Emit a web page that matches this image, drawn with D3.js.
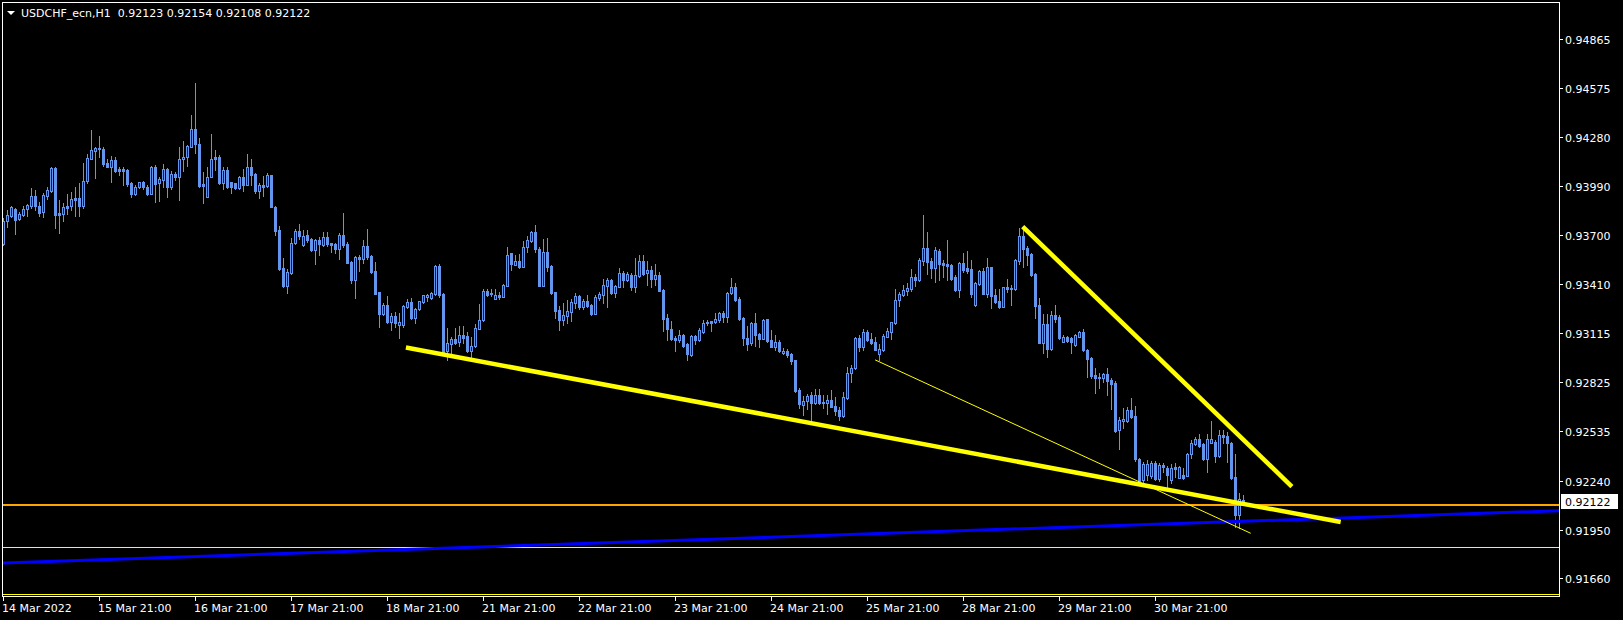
<!DOCTYPE html>
<html><head><meta charset="utf-8">
<script src="https://cdn.jsdelivr.net/npm/d3@7/dist/d3.min.js"></script>
<style>html,body{margin:0;padding:0;background:#000;overflow:hidden}svg{display:block}</style>
</head><body><svg id="c" width="1623" height="620"></svg>
<script>
const symbolTitle = "USDCHF_ecn,H1";
const lastOHLC = [0.92123, 0.92154, 0.92108, 0.92122];
const timeLabels = ["14 Mar 2022","15 Mar 21:00","16 Mar 21:00","17 Mar 21:00","18 Mar 21:00","21 Mar 21:00","22 Mar 21:00","23 Mar 21:00","24 Mar 21:00","25 Mar 21:00","28 Mar 21:00","29 Mar 21:00","30 Mar 21:00"];
const timeLabelBars = [0,24,48,72,96,120,144,168,192,216,240,264,288];
const priceTicks = [0.94865,0.94575,0.94280,0.93990,0.93700,0.93410,0.93115,0.92825,0.92535,0.92240,0.91950,0.91660];

const open = [
0.93647,0.93785,0.93815,0.93855,0.93795,0.93821,0.93853,0.93872,0.93932,0.93872,
0.93839,0.93932,0.93963,0.94100,0.93829,0.93827,0.93872,0.93872,0.93920,0.93920,
0.93872,0.94019,0.94153,0.94201,0.94217,0.94211,0.94126,0.94102,0.94146,0.94092,
0.94092,0.94086,0.94011,0.93944,0.93983,0.94017,0.93987,0.93944,0.94104,0.94007,
0.94027,0.94090,0.93983,0.94063,0.94043,0.94150,0.94162,0.94225,0.94328,0.94241,
0.94001,0.93928,0.94046,0.94162,0.94162,0.94011,0.94086,0.94013,0.94007,0.93979,
0.94043,0.93997,0.94102,0.94061,0.93963,0.93995,0.93991,0.94055,0.93868,0.93730,
0.93502,0.93399,0.93473,0.93654,0.93722,0.93641,0.93698,0.93676,0.93611,0.93670,
0.93641,0.93686,0.93651,0.93647,0.93617,0.93700,0.93647,0.93542,0.93433,0.93571,
0.93559,0.93635,0.93575,0.93488,0.93361,0.93233,0.93284,0.93185,0.93219,0.93167,
0.93166,0.93274,0.93302,0.93207,0.93259,0.93302,0.93330,0.93324,0.93350,0.93516,
0.93350,0.93013,0.93053,0.93081,0.93066,0.93106,0.93100,0.93011,0.93043,0.93144,
0.93195,0.93366,0.93357,0.93322,0.93344,0.93334,0.93397,0.93591,0.93522,0.93546,
0.93512,0.93631,0.93666,0.93718,0.93617,0.93397,0.93599,0.93516,0.93361,0.93255,
0.93195,0.93221,0.93245,0.93298,0.93338,0.93274,0.93308,0.93282,0.93231,0.93326,
0.93344,0.93397,0.93433,0.93354,0.93393,0.93472,0.93433,0.93462,0.93393,0.93457,
0.93546,0.93472,0.93492,0.93441,0.93462,0.93373,0.93207,0.93144,0.93090,0.93076,
0.93106,0.93051,0.92986,0.93100,0.93076,0.93126,0.93176,0.93189,0.93183,0.93195,
0.93239,0.93215,0.93354,0.93389,0.93320,0.93205,0.93090,0.93057,0.93176,0.93112,
0.93084,0.93199,0.93076,0.93033,0.93065,0.92997,0.93011,0.92993,0.92958,0.92779,
0.92692,0.92712,0.92750,0.92700,0.92750,0.92710,0.92704,0.92720,0.92684,0.92661,
0.92625,0.92730,0.92879,0.92908,0.93086,0.93033,0.93124,0.93084,0.93065,0.92993,
0.93017,0.93096,0.93126,0.93176,0.93314,0.93346,0.93369,0.93381,0.93449,0.93433,
0.93547,0.93621,0.93546,0.93504,0.93607,0.93534,0.93528,0.93520,0.93449,0.93373,
0.93536,0.93504,0.93500,0.93284,0.93409,0.93488,0.93350,0.93508,0.93344,0.93308,
0.93274,0.93389,0.93385,0.93378,0.93547,0.93694,0.93621,0.93587,0.93468,0.93284,
0.93057,0.93171,0.93021,0.93223,0.93211,0.93066,0.93096,0.93090,0.93047,0.93096,
0.93124,0.93019,0.92970,0.92869,0.92859,0.92849,0.92874,0.92839,0.92823,0.92542,
0.92597,0.92597,0.92661,0.92625,0.92368,0.92245,0.92275,0.92269,0.92344,0.92251,
0.92334,0.92316,0.92245,0.92320,0.92255,0.92275,0.92270,0.92399,0.92457,0.92487,
0.92459,0.92370,0.92466,0.92472,0.92389,0.92512,0.92506,0.92466,0.92261,0.92037,
0.92123];
const high = [
0.93799,0.93849,0.93872,0.93862,0.93839,0.93872,0.93884,0.93979,0.93967,0.93898,
0.93951,0.93983,0.94106,0.94106,0.93908,0.93892,0.93944,0.93957,0.93983,0.94007,
0.94126,0.94181,0.94324,0.94221,0.94288,0.94225,0.94150,0.94170,0.94162,0.94106,
0.94106,0.94092,0.94017,0.93997,0.94017,0.94021,0.93997,0.94112,0.94116,0.94043,
0.94122,0.94096,0.94082,0.94076,0.94221,0.94260,0.94237,0.94413,0.94601,0.94274,
0.94076,0.94102,0.94300,0.94205,0.94175,0.94106,0.94106,0.94017,0.94011,0.94051,
0.94090,0.94181,0.94150,0.94067,0.94007,0.94051,0.94070,0.94057,0.93872,0.93754,
0.93562,0.93496,0.93681,0.93734,0.93765,0.93730,0.93730,0.93681,0.93675,0.93690,
0.93720,0.93718,0.93654,0.93651,0.93714,0.93833,0.93658,0.93546,0.93575,0.93581,
0.93670,0.93736,0.93581,0.93540,0.93361,0.93298,0.93338,0.93235,0.93245,0.93235,
0.93284,0.93320,0.93324,0.93268,0.93310,0.93346,0.93350,0.93361,0.93520,0.93528,
0.93354,0.93149,0.93096,0.93146,0.93160,0.93160,0.93126,0.93096,0.93171,0.93290,
0.93381,0.93378,0.93378,0.93378,0.93363,0.93409,0.93631,0.93595,0.93581,0.93587,
0.93666,0.93694,0.93726,0.93759,0.93627,0.93675,0.93682,0.93522,0.93361,0.93278,
0.93294,0.93314,0.93318,0.93354,0.93344,0.93318,0.93344,0.93290,0.93344,0.93363,
0.93437,0.93443,0.93437,0.93403,0.93502,0.93488,0.93482,0.93472,0.93562,0.93581,
0.93581,0.93547,0.93516,0.93528,0.93480,0.93378,0.93231,0.93191,0.93100,0.93136,
0.93112,0.93060,0.93106,0.93106,0.93146,0.93195,0.93195,0.93191,0.93239,0.93245,
0.93250,0.93363,0.93443,0.93417,0.93330,0.93211,0.93160,0.93185,0.93235,0.93120,
0.93199,0.93199,0.93136,0.93106,0.93076,0.93027,0.93021,0.93001,0.92958,0.92789,
0.92744,0.92754,0.92769,0.92784,0.92784,0.92750,0.92750,0.92779,0.92740,0.92681,
0.92769,0.92914,0.92928,0.93092,0.93106,0.93140,0.93136,0.93116,0.93092,0.93053,
0.93112,0.93146,0.93185,0.93378,0.93363,0.93403,0.93413,0.93496,0.93468,0.93562,
0.93819,0.93720,0.93562,0.93631,0.93615,0.93552,0.93670,0.93528,0.93462,0.93542,
0.93591,0.93605,0.93552,0.93423,0.93492,0.93502,0.93562,0.93512,0.93378,0.93378,
0.93393,0.93437,0.93403,0.93556,0.93740,0.93734,0.93635,0.93591,0.93472,0.93324,
0.93231,0.93231,0.93250,0.93284,0.93225,0.93104,0.93100,0.93096,0.93110,0.93132,
0.93140,0.93023,0.92977,0.92908,0.92879,0.92882,0.92908,0.92849,0.92835,0.92617,
0.92674,0.92681,0.92730,0.92684,0.92376,0.92352,0.92364,0.92358,0.92358,0.92346,
0.92346,0.92328,0.92342,0.92344,0.92328,0.92314,0.92405,0.92482,0.92502,0.92518,
0.92463,0.92518,0.92597,0.92482,0.92542,0.92542,0.92532,0.92472,0.92399,0.92166,
0.92154];
const low = [
0.93641,0.93746,0.93809,0.93706,0.93789,0.93815,0.93815,0.93861,0.93849,0.93813,
0.93809,0.93916,0.93957,0.93743,0.93714,0.93785,0.93825,0.93849,0.93815,0.93815,
0.93859,0.94007,0.94150,0.94041,0.94165,0.94112,0.94102,0.94017,0.94076,0.94057,
0.93997,0.93991,0.93928,0.93938,0.93977,0.93972,0.93938,0.93944,0.93898,0.93904,
0.93987,0.93928,0.93972,0.94027,0.93908,0.94082,0.94110,0.94221,0.94189,0.93987,
0.93888,0.93928,0.94046,0.94086,0.94003,0.93972,0.93977,0.93948,0.93972,0.93975,
0.93963,0.93997,0.93997,0.93951,0.93918,0.93932,0.93987,0.93868,0.93700,0.93492,
0.93389,0.93357,0.93468,0.93647,0.93675,0.93635,0.93660,0.93607,0.93528,0.93581,
0.93635,0.93635,0.93601,0.93591,0.93558,0.93631,0.93532,0.93417,0.93328,0.93488,
0.93532,0.93559,0.93476,0.93350,0.93155,0.93225,0.93179,0.93136,0.93152,0.93090,
0.93155,0.93265,0.93203,0.93179,0.93255,0.93298,0.93306,0.93320,0.93346,0.93330,
0.93007,0.92958,0.92997,0.93053,0.93041,0.93057,0.93007,0.92974,0.93037,0.93140,
0.93191,0.93338,0.93338,0.93318,0.93322,0.93330,0.93397,0.93492,0.93522,0.93502,
0.93508,0.93601,0.93660,0.93601,0.93397,0.93397,0.93488,0.93350,0.93209,0.93136,
0.93166,0.93176,0.93191,0.93265,0.93262,0.93259,0.93271,0.93225,0.93231,0.93314,
0.93298,0.93274,0.93350,0.93334,0.93393,0.93393,0.93429,0.93373,0.93363,0.93449,
0.93462,0.93403,0.93389,0.93403,0.93367,0.93132,0.93076,0.93076,0.93013,0.93066,
0.93037,0.92958,0.92981,0.93053,0.93072,0.93116,0.93166,0.93132,0.93179,0.93185,
0.93185,0.93185,0.93350,0.93310,0.93195,0.93047,0.93017,0.93047,0.93041,0.93037,
0.93081,0.93066,0.93033,0.93017,0.93007,0.92993,0.92977,0.92934,0.92769,0.92671,
0.92631,0.92665,0.92601,0.92696,0.92696,0.92671,0.92637,0.92677,0.92631,0.92601,
0.92621,0.92724,0.92829,0.92904,0.93009,0.93017,0.93072,0.93053,0.93017,0.92958,
0.93013,0.93092,0.93081,0.93171,0.93278,0.93338,0.93344,0.93369,0.93397,0.93429,
0.93522,0.93468,0.93443,0.93423,0.93433,0.93449,0.93433,0.93433,0.93369,0.93334,
0.93482,0.93476,0.93330,0.93278,0.93403,0.93350,0.93330,0.93265,0.93294,0.93265,
0.93271,0.93363,0.93284,0.93373,0.93528,0.93512,0.93522,0.93457,0.93205,0.93057,
0.93001,0.92977,0.93017,0.93185,0.93081,0.93063,0.93066,0.93001,0.93043,0.93092,
0.93013,0.92858,0.92849,0.92763,0.92793,0.92829,0.92750,0.92667,0.92532,0.92429,
0.92552,0.92591,0.92611,0.92360,0.92227,0.92233,0.92245,0.92257,0.92245,0.92239,
0.92292,0.92196,0.92229,0.92265,0.92255,0.92251,0.92269,0.92374,0.92453,0.92443,
0.92364,0.92294,0.92463,0.92354,0.92380,0.92463,0.92354,0.92251,0.91967,0.91958,
0.92108];
const close = [
0.93785,0.93817,0.93868,0.93789,0.93825,0.93855,0.93878,0.93932,0.93872,0.93833,
0.93936,0.93966,0.94100,0.93819,0.93819,0.93866,0.93862,0.93914,0.93910,0.93872,
0.94019,0.94158,0.94205,0.94215,0.94211,0.94122,0.94104,0.94146,0.94082,0.94082,
0.94082,0.94003,0.93944,0.93987,0.94013,0.93983,0.93944,0.94104,0.94003,0.94035,
0.94090,0.93983,0.94063,0.94046,0.94150,0.94162,0.94227,0.94328,0.94241,0.93991,
0.93993,0.94043,0.94150,0.94150,0.94007,0.94086,0.93983,0.93987,0.93977,0.94043,
0.93997,0.94102,0.94057,0.93963,0.93995,0.93987,0.94055,0.93868,0.93726,0.93498,
0.93397,0.93480,0.93654,0.93722,0.93694,0.93694,0.93670,0.93611,0.93670,0.93647,
0.93686,0.93647,0.93641,0.93617,0.93700,0.93641,0.93536,0.93433,0.93568,0.93559,
0.93635,0.93568,0.93480,0.93350,0.93231,0.93284,0.93183,0.93219,0.93179,0.93183,
0.93278,0.93302,0.93207,0.93261,0.93306,0.93342,0.93344,0.93354,0.93516,0.93344,
0.93007,0.93057,0.93081,0.93060,0.93104,0.93090,0.93011,0.93041,0.93146,0.93195,
0.93366,0.93344,0.93348,0.93342,0.93334,0.93401,0.93581,0.93528,0.93546,0.93508,
0.93627,0.93670,0.93718,0.93615,0.93397,0.93599,0.93512,0.93357,0.93250,0.93195,
0.93225,0.93249,0.93302,0.93338,0.93271,0.93308,0.93278,0.93231,0.93330,0.93348,
0.93403,0.93433,0.93354,0.93397,0.93472,0.93433,0.93468,0.93393,0.93462,0.93546,
0.93468,0.93492,0.93441,0.93462,0.93369,0.93203,0.93140,0.93081,0.93076,0.93106,
0.93041,0.92993,0.93100,0.93076,0.93136,0.93176,0.93185,0.93179,0.93199,0.93235,
0.93215,0.93357,0.93389,0.93314,0.93201,0.93090,0.93053,0.93176,0.93106,0.93081,
0.93195,0.93070,0.93033,0.93065,0.93011,0.93013,0.92986,0.92953,0.92775,0.92696,
0.92712,0.92744,0.92700,0.92750,0.92700,0.92704,0.92720,0.92681,0.92656,0.92625,
0.92736,0.92879,0.92908,0.93086,0.93033,0.93124,0.93076,0.93060,0.93017,0.93021,
0.93100,0.93130,0.93182,0.93314,0.93350,0.93373,0.93383,0.93449,0.93433,0.93552,
0.93621,0.93542,0.93502,0.93611,0.93528,0.93522,0.93516,0.93437,0.93373,0.93536,
0.93492,0.93488,0.93350,0.93413,0.93486,0.93350,0.93508,0.93338,0.93304,0.93271,
0.93389,0.93378,0.93378,0.93552,0.93694,0.93615,0.93581,0.93462,0.93278,0.93060,
0.93171,0.93021,0.93223,0.93203,0.93090,0.93096,0.93070,0.93066,0.93106,0.93124,
0.93017,0.92965,0.92863,0.92853,0.92849,0.92874,0.92835,0.92815,0.92538,0.92601,
0.92609,0.92661,0.92621,0.92368,0.92239,0.92340,0.92340,0.92344,0.92251,0.92334,
0.92320,0.92275,0.92318,0.92308,0.92320,0.92259,0.92399,0.92463,0.92487,0.92449,
0.92370,0.92487,0.92487,0.92389,0.92512,0.92502,0.92463,0.92255,0.92037,0.92130,
0.92122];

// horizontal line objects: price levels
const hLinePrices = [0.92095, 0.91845, 0.91568];
const hLineColors = ["#FFA500", "#FFFF00", "#FFFF00"];
const hLineWidths = [2, 1, 1];
// trend line objects: [bar1, price1, bar2, price2]
const trendBars1 = [0, 100.6, 254.8, 217.9];
const trendPrices1 = [0.91752, 0.93031, 0.93749, 0.92958];
const trendBars2 = [388.9, 334.3, 322.1, 311.8];
const trendPrices2 = [0.92062, 0.91995, 0.92205, 0.91928];
const trendColors = ["#0000FF", "#FFFF00", "#FFFF00", "#FFFF00"];
const trendWidths = [3, 4.5, 4.5, 1];
const trendRay = [true, false, false, false];

const W = 1623, H = 620;
const plotL = 2, plotR = 1559, plotT = 2, plotB = 596;
const svg = d3.select("#c");
svg.append("rect").attr("width", W).attr("height", H).attr("fill", "#000");

const x = d3.scaleLinear().domain([0, 310]).range([3.5, 1243.5]);
const y = d3.scaleLinear().domain([0.91660, 0.94865]).range([578.4, 38.8]);

const defs = svg.append("defs");
defs.append("clipPath").attr("id", "plotclip").append("rect")
  .attr("x", plotL + 1).attr("y", plotT + 1).attr("width", plotR - plotL - 1).attr("height", plotB - plotT - 1);

const plot = svg.append("g").attr("clip-path", "url(#plotclip)");

const N = open.length;
const candles = d3.range(N).map(i => ({i, o: open[i], h: high[i], l: low[i], c: close[i]}));

const up = "#6495ED", bullFill = "#0000FF";
const cg = plot.append("g").attr("shape-rendering", "crispEdges");
// wicks
cg.selectAll("rect.wick").data(candles).join("rect").attr("class", "wick")
  .attr("x", d => x(d.i) - 0.5).attr("width", 1)
  .attr("y", d => Math.round(y(d.h)))
  .attr("height", d => Math.max(1, Math.round(y(d.l)) - Math.round(y(d.h)) + 1))
  .attr("fill", up);
// bodies
cg.selectAll("rect.body").data(candles).join("rect").attr("class", "body")
  .attr("x", d => x(d.i) - 1.5).attr("width", 3)
  .attr("y", d => Math.round(y(Math.max(d.o, d.c))))
  .attr("height", d => Math.max(1, Math.round(y(Math.min(d.o, d.c))) - Math.round(y(Math.max(d.o, d.c))) + 1))
  .attr("fill", up);
// bull inner fill
const bulls = candles.filter(d => d.c > d.o && (Math.round(y(d.o)) - Math.round(y(d.c))) >= 2);
cg.selectAll("rect.inner").data(bulls).join("rect").attr("class", "inner")
  .attr("x", d => x(d.i) - 0.5).attr("width", 1)
  .attr("y", d => Math.round(y(d.c)) + 1)
  .attr("height", d => Math.round(y(d.o)) - Math.round(y(d.c)) - 1)
  .attr("fill", bullFill);

// horizontal lines
hLinePrices.forEach((p, k) => {
  plot.append("line").attr("x1", plotL).attr("x2", plotR)
    .attr("y1", Math.round(y(p)) + (hLineWidths[k] % 2 ? 0.5 : 0))
    .attr("y2", Math.round(y(p)) + (hLineWidths[k] % 2 ? 0.5 : 0))
    .attr("stroke", hLineColors[k]).attr("stroke-width", hLineWidths[k])
    .attr("shape-rendering", "crispEdges");
});

// trend lines
trendBars1.forEach((b1, k) => {
  let X1 = x(b1), Y1 = y(trendPrices1[k]), X2 = x(trendBars2[k]), Y2 = y(trendPrices2[k]);
  if (trendRay[k]) {
    const s = (Y2 - Y1) / (X2 - X1);
    const nx1 = plotL, nx2 = plotR;
    Y1 = Y1 + s * (nx1 - X1); Y2 = Y1 + s * (nx2 - nx1); X1 = nx1; X2 = nx2;
  }
  plot.append("line").attr("x1", X1).attr("y1", Y1).attr("x2", X2).attr("y2", Y2)
    .attr("stroke", trendColors[k]).attr("stroke-width", trendWidths[k])
    .attr("stroke-linecap", "butt");
});

// frame
svg.append("rect").attr("x", plotL + 0.5).attr("y", plotT + 0.5)
  .attr("width", plotR - plotL).attr("height", plotB - plotT)
  .attr("fill", "none").attr("stroke", "#fff").attr("stroke-width", 1)
  .attr("shape-rendering", "crispEdges");

const font = "'DejaVu Sans', Tahoma, Verdana, sans-serif";

// price axis
const pa = svg.append("g");
pa.selectAll("line").data(priceTicks).join("line")
  .attr("x1", plotR + 1).attr("x2", plotR + 4)
  .attr("y1", d => Math.round(y(d)) + 0.5).attr("y2", d => Math.round(y(d)) + 0.5)
  .attr("stroke", "#fff").attr("shape-rendering", "crispEdges");
pa.selectAll("text").data(priceTicks).join("text")
  .attr("x", 1565).attr("y", d => Math.round(y(d)) + 4.5)
  .attr("fill", "#fff").style("font-family", font).style("font-size", "11px")
  .text(d => d.toFixed(5));

// current price label
const cp = lastOHLC[3];
svg.append("rect").attr("x", 1561).attr("y", Math.round(y(cp)) - 7).attr("width", 57).attr("height", 15)
  .attr("fill", "#fff");
svg.append("text").attr("x", 1565).attr("y", Math.round(y(cp)) + 4.5)
  .attr("fill", "#000").style("font-family", font).style("font-size", "11px").text(cp.toFixed(5));

// time axis
const ta = svg.append("g");
ta.selectAll("line").data(timeLabelBars).join("line")
  .attr("x1", d => x(d)).attr("x2", d => x(d))
  .attr("y1", plotB + 1).attr("y2", plotB + 5)
  .attr("stroke", "#fff").attr("shape-rendering", "crispEdges");
ta.selectAll("text").data(timeLabelBars).join("text")
  .attr("x", d => x(d) - 1.5).attr("y", 612)
  .attr("fill", "#fff").style("font-family", font).style("font-size", "11px")
  .text((d, k) => timeLabels[k]);

// title
svg.append("path").attr("d", "M7,11 L15,11 L11,15 Z").attr("fill", "#fff");
svg.append("text").attr("x", 21).attr("y", 17).attr("fill", "#fff")
  .style("font-family", font).style("font-size", "11px")
  .attr("xml:space", "preserve")
  .text(symbolTitle + "  " + lastOHLC.map(v => v.toFixed(5)).join(" "));
</script>
</body></html>
